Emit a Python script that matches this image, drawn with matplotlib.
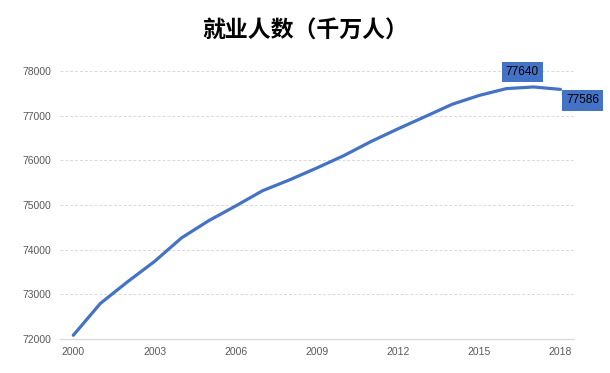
import matplotlib
matplotlib.use("Agg")
import matplotlib.pyplot as plt

# === DATOS ===
anios = list(range(2000, 2019))
empleo = [72085, 72797, 73280, 73736, 74264, 74647, 74978, 75321, 75564, 75828,
          76105, 76420, 76704, 76977, 77253, 77451, 77603, 77640, 77586]
ticks_x = [2000, 2003, 2006, 2009, 2012, 2015, 2018]
ticks_y = [72000, 73000, 74000, 75000, 76000, 77000, 78000]
titulo = "就业人数（千万人）"

azul = "#4472C4"
gris = "#595959"

fig = plt.figure(figsize=(6.1, 3.73), dpi=100)
ax = fig.add_axes([0.098, 0.091, 0.843, 0.719])

ax.plot(anios, empleo, color=azul, linewidth=2.3, solid_capstyle="round")

ax.set_xlim(1999.5, 2018.5)
ax.set_ylim(72000, 78000)
ax.set_xticks(ticks_x)
ax.set_yticks(ticks_y)
ax.tick_params(length=0, labelsize=7.5, colors=gris, pad=6)
for lab in ax.get_xticklabels() + ax.get_yticklabels():
    lab.set_family("Liberation Sans")

ax.grid(axis="y", color="#d9d9d9", linestyle=(0, (3, 2)), linewidth=0.7)
for s in ["top", "right", "left"]:
    ax.spines[s].set_visible(False)
ax.spines["bottom"].set_color("#d9d9d9")
ax.spines["bottom"].set_linewidth(0.9)
ax.set_axisbelow(True)

# etiquetas de los dos ultimos puntos
caja = dict(boxstyle="square,pad=0.35", facecolor=azul, edgecolor="none")
ax.annotate(str(empleo[-2]), (anios[-2], empleo[-2]), xytext=(-8, 11),
            textcoords="offset points", ha="center", va="center",
            fontsize=8.5, color="black", bbox=caja, family="Liberation Sans",
            annotation_clip=False)
ax.annotate(str(empleo[-1]), (anios[-1], empleo[-1]), xytext=(16, -8),
            textcoords="offset points", ha="center", va="center",
            fontsize=8.5, color="black", bbox=caja, family="Liberation Sans",
            annotation_clip=False)

fig.text(0.5, 0.917, titulo, ha="center", va="center", fontsize=16.5,
         fontweight="bold", family=["Noto Sans CJK SC", "DejaVu Sans"])

fig.savefig("out.png", dpi=100)
